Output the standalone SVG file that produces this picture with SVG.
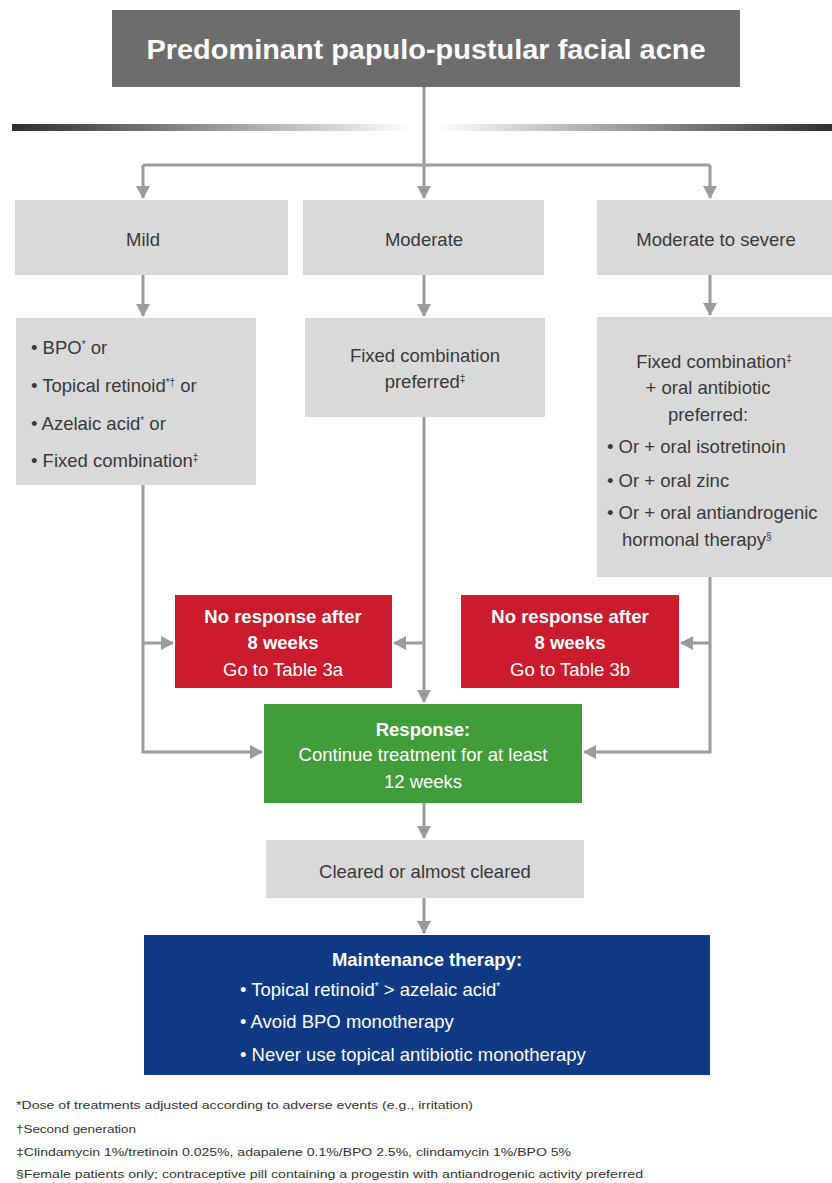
<svg xmlns="http://www.w3.org/2000/svg" width="832" height="1183" viewBox="0 0 832 1183">
<style>
text{font-family:"Liberation Sans",Arial,sans-serif}
.lvl{fill:#d9d9d9}
.t{font-size:18.5px;fill:#3a3a3a}
.w{fill:#fff;font-size:18.5px}
.b{font-weight:bold}
.c{text-anchor:middle}
.fn{font-size:11.5px;fill:#333}
.ln{stroke:#9b9b9b;stroke-width:3;fill:none}
.sup{font-size:10px}
</style>
<defs>
<marker id="ah" markerUnits="userSpaceOnUse" markerWidth="14" markerHeight="14" refX="12" refY="7" orient="auto">
<path d="M0,0 L13,7 L0,14 Z" fill="#9b9b9b"/>
</marker>
<linearGradient id="gl" x1="0" x2="1" y1="0" y2="0">
<stop offset="0" stop-color="#2e2e2e"/><stop offset="1" stop-color="#ffffff"/>
</linearGradient>
<linearGradient id="gr" x1="0" x2="1" y1="0" y2="0">
<stop offset="0" stop-color="#ffffff"/><stop offset="1" stop-color="#2e2e2e"/>
</linearGradient>
</defs>
<rect width="832" height="1183" fill="#fff"/>
<rect x="12" y="124" width="400" height="7" fill="url(#gl)"/>
<rect x="438" y="124" width="394" height="7" fill="url(#gr)"/>

<g id="connectors">
<path class="ln" d="M424,87 V165"/>
<path class="ln" d="M143,165 H710"/>
<path class="ln" d="M143,165 V198" marker-end="url(#ah)"/>
<path class="ln" d="M424,165 V198" marker-end="url(#ah)"/>
<path class="ln" d="M710,165 V198" marker-end="url(#ah)"/>
<path class="ln" d="M143,275 V316" marker-end="url(#ah)"/>
<path class="ln" d="M424,275 V316" marker-end="url(#ah)"/>
<path class="ln" d="M710,275 V315" marker-end="url(#ah)"/>
<path class="ln" d="M143,485 V752 H262" marker-end="url(#ah)"/>
<path class="ln" d="M143,643 H173" marker-end="url(#ah)"/>
<path class="ln" d="M424,417 V702" marker-end="url(#ah)"/>
<path class="ln" d="M424,643 H394" marker-end="url(#ah)"/>
<path class="ln" d="M710,577 V752 H584" marker-end="url(#ah)"/>
<path class="ln" d="M710,643 H681" marker-end="url(#ah)"/>
<path class="ln" d="M424,803 V838" marker-end="url(#ah)"/>
<path class="ln" d="M424,898 V933" marker-end="url(#ah)"/>
</g>

<g id="title">
<rect x="112" y="10" width="628" height="77" fill="#6d6d6d"/>
<text x="426" y="59" class="c b" font-size="27" fill="#fff" textLength="559" lengthAdjust="spacingAndGlyphs">Predominant papulo-pustular facial acne</text>
</g>

<g id="mild">
<rect class="lvl" x="15" y="200" width="273" height="75"/>
<text x="143" y="246" class="t c">Mild</text>
</g>
<g id="moderate">
<rect class="lvl" x="303" y="200" width="241" height="75"/>
<text x="424" y="246" class="t c">Moderate</text>
</g>
<g id="modsevere">
<rect class="lvl" x="597" y="200" width="235" height="75"/>
<text x="716" y="246" class="t c">Moderate to severe</text>
</g>

<g id="mild-tx">
<rect class="lvl" x="16" y="318" width="240" height="167"/>
<text class="t" x="31" y="354">• BPO<tspan class="sup" dy="-6">*</tspan><tspan dy="6"> or</tspan></text>
<text class="t" x="31" y="392">• Topical retinoid<tspan class="sup" dy="-6">*†</tspan><tspan dy="6"> or</tspan></text>
<text class="t" x="31" y="430">• Azelaic acid<tspan class="sup" dy="-6">*</tspan><tspan dy="6"> or</tspan></text>
<text class="t" x="31" y="467">• Fixed combination<tspan class="sup" dy="-6">‡</tspan></text>
</g>

<g id="moderate-tx">
<rect class="lvl" x="305" y="318" width="240" height="99"/>
<text class="t c" x="425" y="362">Fixed combination</text>
<text class="t c" x="425" y="388">preferred<tspan class="sup" dy="-6">‡</tspan></text>
</g>

<g id="modsevere-tx">
<rect class="lvl" x="597" y="317" width="235" height="260"/>
<text class="t c" x="714" y="368">Fixed combination<tspan class="sup" dy="-6">‡</tspan></text>
<text class="t c" x="708" y="394">+ oral antibiotic</text>
<text class="t c" x="708" y="421">preferred:</text>
<text class="t" x="607" y="453">• Or + oral isotretinoin</text>
<text class="t" x="607" y="487">• Or + oral zinc</text>
<text class="t" x="607" y="519">• Or + oral antiandrogenic</text>
<text class="t" x="622" y="546">hormonal therapy<tspan class="sup" dy="-6">§</tspan></text>
</g>

<g id="noresp-a">
<rect x="175" y="595" width="217" height="93" fill="#cc1a2f"/>
<text class="w b c" x="283" y="623">No response after</text>
<text class="w b c" x="283" y="649">8 weeks</text>
<text class="w c" x="283" y="676">Go to Table 3a</text>
</g>
<g id="noresp-b">
<rect x="461" y="595" width="218" height="93" fill="#cc1a2f"/>
<text class="w b c" x="570" y="623">No response after</text>
<text class="w b c" x="570" y="649">8 weeks</text>
<text class="w c" x="570" y="676">Go to Table 3b</text>
</g>

<g id="response">
<rect x="264" y="704" width="318" height="99" fill="#3f9e38"/>
<text class="w b c" x="423" y="736">Response:</text>
<text class="w c" x="423" y="761">Continue treatment for at least</text>
<text class="w c" x="423" y="788">12 weeks</text>
</g>

<g id="cleared">
<rect class="lvl" x="266" y="840" width="318" height="58"/>
<text class="t c" x="425" y="878">Cleared or almost cleared</text>
</g>

<g id="maintenance">
<rect x="144" y="935" width="566" height="140" fill="#0e3a86"/>
<text class="w b c" x="427" y="966">Maintenance therapy:</text>
<text class="w" x="240" y="996">• Topical retinoid<tspan class="sup" dy="-6">*</tspan><tspan dy="6"> &gt; azelaic acid</tspan><tspan class="sup" dy="-6">*</tspan></text>
<text class="w" x="240" y="1028">• Avoid BPO monotherapy</text>
<text class="w" x="240" y="1061">• Never use topical antibiotic monotherapy</text>
</g>

<g id="footnotes">
<text class="fn" x="16" y="1109" textLength="457" lengthAdjust="spacingAndGlyphs">*Dose of treatments adjusted according to adverse events (e.g., irritation)</text>
<text class="fn" x="16" y="1133" textLength="120" lengthAdjust="spacingAndGlyphs">†Second generation</text>
<text class="fn" x="16" y="1156" textLength="555" lengthAdjust="spacingAndGlyphs">‡Clindamycin 1%/tretinoin 0.025%, adapalene 0.1%/BPO 2.5%, clindamycin 1%/BPO 5%</text>
<text class="fn" x="16" y="1178" textLength="627" lengthAdjust="spacingAndGlyphs">§Female patients only; contraceptive pill containing a progestin with antiandrogenic activity preferred</text>
</g>
</svg>
